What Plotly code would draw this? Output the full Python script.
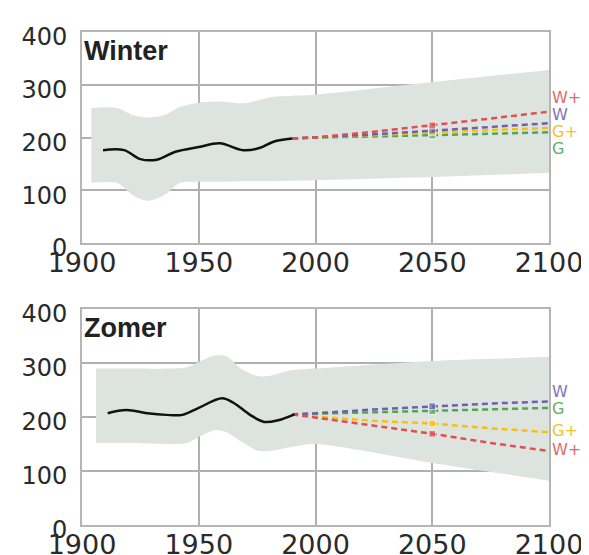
import plotly.graph_objects as go

# ---------------- data ----------------
scenarios = ["W+", "W", "G+", "G"]
colors = {"W+": "#e05050", "W": "#6f5fb0", "G+": "#f5c010", "G": "#4fa84f"}
label_colors = {"W+": "#e06a6a", "W": "#8272b8", "G+": "#f2c22a", "G": "#62b062"}

# Winter
w_hist_years = [1909, 1918, 1925, 1932, 1940, 1950, 1959, 1969, 1976, 1982, 1990]
w_hist_vals = [176, 176, 159, 158, 173, 182, 189, 176, 180, 192, 198]

w_band_years = [1904, 1915, 1922, 1928, 1935, 1942, 1950, 1960, 1970, 1980, 1990, 2000, 2050, 2100]
w_band_upper = [256, 256, 242, 238, 242, 258, 266, 268, 265, 276, 279, 281, 305, 328]
w_band_lower = [114, 114, 90, 80, 90, 114, 116, 116, 117, 117, 118, 119, 125, 133]

fut_years = [1990, 2000, 2025, 2050, 2075, 2100]
w_future = {
    "W+": [198, 200, 211, 223, 236, 249],
    "W": [198, 200, 206, 213, 220, 227],
    "G+": [198, 200, 205, 210, 214, 218],
    "G": [198, 200, 202, 204, 207, 210],
}

# Summer (Zomer)
s_hist_years = [1911, 1919, 1928, 1936, 1943, 1950, 1960, 1965, 1972, 1978, 1984, 1991]
s_hist_vals = [207, 213, 207, 204, 204, 217, 235, 226, 204, 191, 194, 205]

s_band_years = [1906, 1920, 1945, 1950, 1957, 1962, 1968, 1975, 1980, 1990, 2000, 2050, 2100]
s_band_upper = [290, 290, 292, 302, 314, 312, 290, 276, 276, 287, 290, 304, 311]
s_band_lower = [152, 152, 152, 163, 176, 172, 155, 138, 137, 145, 150, 115, 82]

s_future = {
    "W": [205, 207, 214, 220, 225, 229],
    "G": [205, 206, 209, 211, 214, 217],
    "G+": [205, 201, 193, 188, 179, 172],
    "W+": [205, 199, 185, 169, 152, 137],
}

panel_titles = ["Winter", "Zomer"]
x_ticks = [1900, 1950, 2000, 2050, 2100]
y_ticks = [0, 100, 200, 300, 400]

# label vertical positions (data units) for the scenario tags at the right
w_label_pos = {"W+": 275, "W": 244, "G+": 211, "G": 180}
s_label_pos = {"W": 248, "G": 216, "G+": 175, "W+": 139}

# ---------------- figure ----------------
band_color = "rgb(221,228,223)"
fig = go.Figure()

panels = [
    ("x", "y", w_hist_years, w_hist_vals, w_band_years, w_band_upper, w_band_lower, w_future, w_label_pos),
    ("x2", "y2", s_hist_years, s_hist_vals, s_band_years, s_band_upper, s_band_lower, s_future, s_label_pos),
]

for xa, ya, hy, hv, by, bu, bl, fut, lpos in panels:
    fig.add_trace(go.Scatter(x=by, y=bl, mode="lines", line=dict(width=0, shape="spline", smoothing=0.8),
                             xaxis=xa, yaxis=ya, showlegend=False, hoverinfo="skip"))
    fig.add_trace(go.Scatter(x=by, y=bu, mode="lines", line=dict(width=0, shape="spline", smoothing=0.8),
                             fill="tonexty", fillcolor=band_color,
                             xaxis=xa, yaxis=ya, showlegend=False, hoverinfo="skip"))
    for name in ["G", "G+", "W", "W+"]:
        sizes = [7 if yr == 2050 else 0 for yr in fut_years]
        fig.add_trace(go.Scatter(x=fut_years, y=fut[name], mode="lines+markers",
                                 line=dict(color=colors[name], width=2.5, dash="6px,4px"),
                                 marker=dict(symbol="square", size=sizes, color=colors[name]),
                                 xaxis=xa, yaxis=ya, showlegend=False))
    fig.add_trace(go.Scatter(x=hy, y=hv, mode="lines", line=dict(color="#111111", width=2.5, shape="spline"),
                             xaxis=xa, yaxis=ya, showlegend=False))
    for name in scenarios:
        fig.add_annotation(x=1.0, xref=("x domain" if xa == "x" else "x2 domain"), xanchor="left", xshift=1,
                           y=lpos[name], yref=ya, yanchor="middle", text=name, showarrow=False,
                           font=dict(family="DejaVu Sans", size=16, color=label_colors[name]))

for i, t in enumerate(panel_titles):
    xd = "x domain" if i == 0 else "x2 domain"
    yd = "y domain" if i == 0 else "y2 domain"
    fig.add_annotation(x=0.0, xref=xd, xanchor="left", y=0.99, yref=yd, yanchor="top",
                       text="<b>%s</b>" % t, showarrow=False,
                       font=dict(family="Liberation Sans, Arial", size=27, color="#222222"))

axis_common = dict(showline=True, linecolor="#b5b5b5", linewidth=2, mirror=True, automargin=False,
                   showgrid=True, gridcolor="#b0b0b0", gridwidth=2, zeroline=False, ticks="")
xcommon = dict(axis_common, range=[1900, 2100], tickvals=x_ticks,
               tickfont=dict(family="DejaVu Sans", size=27, color="#2a2a2a"),
               ticklabelstandoff=-5)
ycommon = dict(axis_common, range=[0, 400], tickvals=y_ticks,
               tickfont=dict(family="DejaVu Sans", size=24, color="#2a2a2a"),
               ticklabelstandoff=8, ticklabelshift=5)

fig.update_layout(
    width=581, height=547,
    margin=dict(l=74, r=40, t=24, b=30, autoexpand=False),
    paper_bgcolor="white", plot_bgcolor="white",
    xaxis=dict(xcommon, domain=[0, 1], anchor="y"),
    yaxis=dict(ycommon, domain=[0.572, 1], anchor="x"),
    xaxis2=dict(xcommon, domain=[0, 1], anchor="y2"),
    yaxis2=dict(ycommon, domain=[0, 0.438], anchor="x2"),
)

fig.write_html("out.html")
